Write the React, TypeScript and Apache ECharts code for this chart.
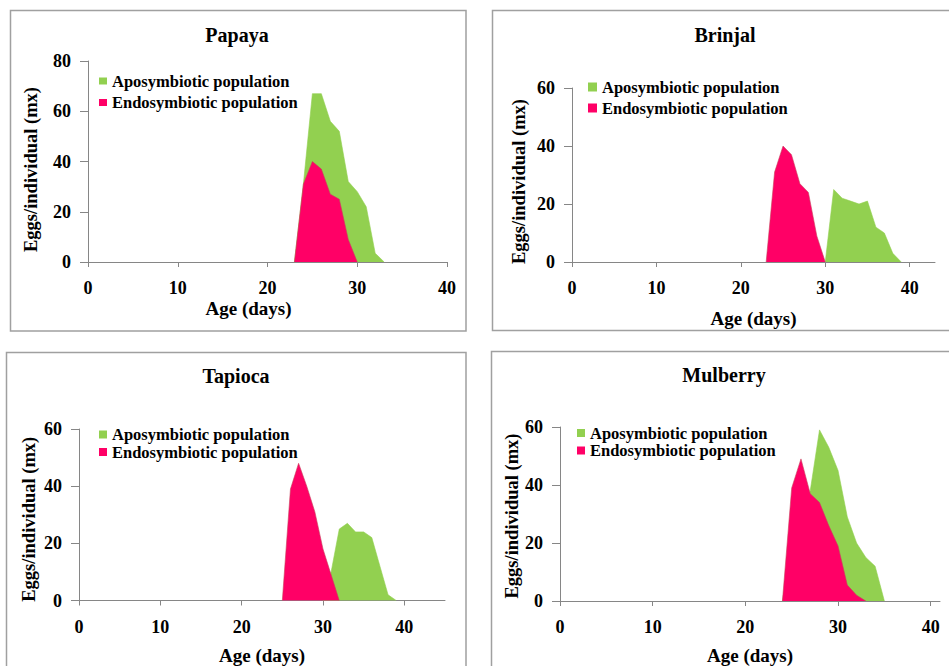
import React, { useEffect, useRef } from "react";
import * as echarts from "echarts";

// ---------- data ----------
const panelTitles = ["Papaya", "Brinjal", "Tapioca", "Mulberry"];
const seriesNames = ["Aposymbiotic population", "Endosymbiotic population"];
const xTickValues = [0, 10, 20, 30, 40];
const xAxisMax = [40, 43, 45, 41];
const yAxisMax = [80, 60, 60, 60];

const papayaAposDays = [23, 24, 25, 26, 27, 28, 29, 30, 31, 32, 33];
const papayaApos = [0, 31, 67, 67, 56, 52, 32, 28, 22, 3.5, 0];
const papayaEndoDays = [23, 24, 25, 26, 27, 28, 29, 30];
const papayaEndo = [0, 31, 40, 37, 27, 25, 9, 0];

const brinjalAposDays = [30, 31, 32, 33, 34, 35, 36, 37, 38, 39];
const brinjalApos = [0, 25, 22, 21, 20, 21, 12, 10, 3, 0];
const brinjalEndoDays = [23, 24, 25, 26, 27, 28, 29, 30];
const brinjalEndo = [0, 31, 40, 37, 27, 24, 9, 0];

const tapiocaAposDays = [30, 31, 32, 33, 34, 35, 36, 37, 38, 39];
const tapiocaApos = [0, 10, 25, 27, 24, 24, 22, 12, 2, 0];
const tapiocaEndoDays = [25, 26, 27, 28, 29, 30, 31, 32];
const tapiocaEndo = [0, 39, 48, 40, 31, 18, 9, 0];

const mulberryAposDays = [24, 25, 26, 27, 28, 29, 30, 31, 32, 33, 34, 35];
const mulberryApos = [0, 20, 30, 38, 59, 53, 45, 29, 20, 15, 12, 0];
const mulberryEndoDays = [24, 25, 26, 27, 28, 29, 30, 31, 32, 33];
const mulberryEndo = [0, 39, 49, 37, 34, 26, 19, 5.5, 2, 0];

const aposDays = [papayaAposDays, brinjalAposDays, tapiocaAposDays, mulberryAposDays];
const aposVals = [papayaApos, brinjalApos, tapiocaApos, mulberryApos];
const endoDays = [papayaEndoDays, brinjalEndoDays, tapiocaEndoDays, mulberryEndoDays];
const endoVals = [papayaEndo, brinjalEndo, tapiocaEndo, mulberryEndo];

// ---------- layout / style ----------
const FONT = '"Liberation Serif", "Times New Roman", Times, serif';
const GREEN = "#92D050";
const PINK = "#FF0066";
const AXIS = "#868686";
const BORDER = "#a0a0a0";

const grids = [
  { left: 88, top: 61, width: 359, height: 201 },
  { left: 572, top: 88, width: 363, height: 174 },
  { left: 79, top: 429, width: 366, height: 173 },
  { left: 560, top: 427, width: 380, height: 174 },
];
const titlePos = [
  { x: 237, y: 25 },
  { x: 725, y: 25 },
  { x: 236, y: 366 },
  { x: 724, y: 365 },
];
const legendPos = [
  { left: 99, top: 72, w: 8, h: 7, gap: 3.5 },
  { left: 588, top: 78, w: 9, h: 9, gap: 3 },
  { left: 99, top: 425.5, w: 8, h: 8, gap: -0.5 },
  { left: 577, top: 424, w: 8, h: 8, gap: -0.5 },
];
const yNameGap = [47.5, 43.5, 40.5, 35];
const yNamePad = [16, 13, 9, 4];
const xNameGap = [36.5, 46.5, 45.5, 44.5];
const xNamePad = [38, 0, 0, 0];
const borders = [
  { x: 10.5, y: 10.5, w: 455.5, h: 320.5 },
  { x: 492.5, y: 10.5, w: 470, h: 320 },
  { x: 6.5, y: 352.5, w: 459.5, h: 330 },
  { x: 491.5, y: 351.5, w: 470, h: 330 },
];

export default function App() {
  const ref = useRef<HTMLDivElement>(null);

  useEffect(() => {
    if (!ref.current) return;
    const chart = echarts.init(ref.current, undefined, { renderer: "svg" });

    const series: any[] = [];
    for (let i = 0; i < 4; i++) {
      series.push({
        type: "line",
        name: seriesNames[0],
        xAxisIndex: i,
        yAxisIndex: i,
        data: aposDays[i].map((d, k) => [d, aposVals[i][k]]),
        symbol: "none",
        lineStyle: { width: 0.6, color: GREEN },
        itemStyle: { color: GREEN },
        areaStyle: { color: GREEN, opacity: 1 },
        z: 2,
      });
      series.push({
        type: "line",
        name: seriesNames[1],
        xAxisIndex: i,
        yAxisIndex: i,
        data: endoDays[i].map((d, k) => [d, endoVals[i][k]]),
        symbol: "none",
        lineStyle: { width: 0.6, color: "#c8405a" },
        itemStyle: { color: PINK },
        areaStyle: { color: PINK, opacity: 1 },
        z: 3,
      });
    }

    const option: any = {
      animation: false,
      backgroundColor: "#ffffff",
      title: panelTitles.map((t, i) => ({
        text: t,
        left: titlePos[i].x,
        top: titlePos[i].y,
        textAlign: "center",
        padding: 0,
        textStyle: { fontFamily: FONT, fontWeight: "bold", fontSize: 20, color: "#000" },
      })),
      legend: legendPos.map((l) => ({
        orient: "vertical",
        left: l.left,
        top: l.top,
        padding: 0,
        itemWidth: l.w,
        itemHeight: l.h,
        itemGap: l.gap,
        icon: "rect",
        selectedMode: false,
        data: seriesNames,
        textStyle: { fontFamily: FONT, fontWeight: "bold", fontSize: 16.5, color: "#000", lineHeight: 18 },
      })),
      grid: grids.map((g) => ({ ...g, containLabel: false })),
      xAxis: grids.map((_, i) => ({
        type: "value",
        gridIndex: i,
        min: 0,
        max: xAxisMax[i],
        interval: 10,
        name: "Age (days)",
        nameLocation: "middle",
        nameGap: xNameGap[i],
        nameTextStyle: {
          fontFamily: FONT,
          fontWeight: "bold",
          fontSize: 19,
          color: "#000",
          padding: [0, xNamePad[i], 0, 0],
        },
        axisLine: { show: true, lineStyle: { color: AXIS, width: 1 } },
        axisTick: { show: true, length: 5, lineStyle: { color: AXIS }, customValues: xTickValues },
        axisLabel: {
          margin: 17,
          fontFamily: FONT,
          fontWeight: "bold",
          fontSize: 18,
          color: "#000",
          customValues: xTickValues,
        },
        splitLine: { show: false },
      })),
      yAxis: grids.map((_, i) => ({
        type: "value",
        gridIndex: i,
        min: 0,
        max: yAxisMax[i],
        interval: 20,
        name: "Eggs/individual (mx)",
        nameLocation: "middle",
        nameGap: yNameGap[i],
        nameTextStyle: {
          fontFamily: FONT,
          fontWeight: "bold",
          fontSize: 18.5,
          color: "#000",
          padding: [0, yNamePad[i], 0, 0],
        },
        axisLine: { show: true, lineStyle: { color: AXIS, width: 1 } },
        axisTick: { show: true, length: 8, lineStyle: { color: AXIS } },
        axisLabel: { margin: 17, fontFamily: FONT, fontWeight: "bold", fontSize: 18, color: "#000" },
        splitLine: { show: false },
      })),
      graphic: borders.map((b) => ({
        type: "rect",
        shape: { x: b.x, y: b.y, width: b.w, height: b.h },
        style: { fill: "none", stroke: BORDER, lineWidth: 1.5 },
        silent: true,
        z: -10,
      })),
      series,
    };

    chart.setOption(option);
    return () => chart.dispose();
  }, []);

  return (
    <div
      ref={ref}
      style={{ position: "fixed", left: 0, top: 0, width: 949, height: 666, background: "#fff" }}
    />
  );
}
